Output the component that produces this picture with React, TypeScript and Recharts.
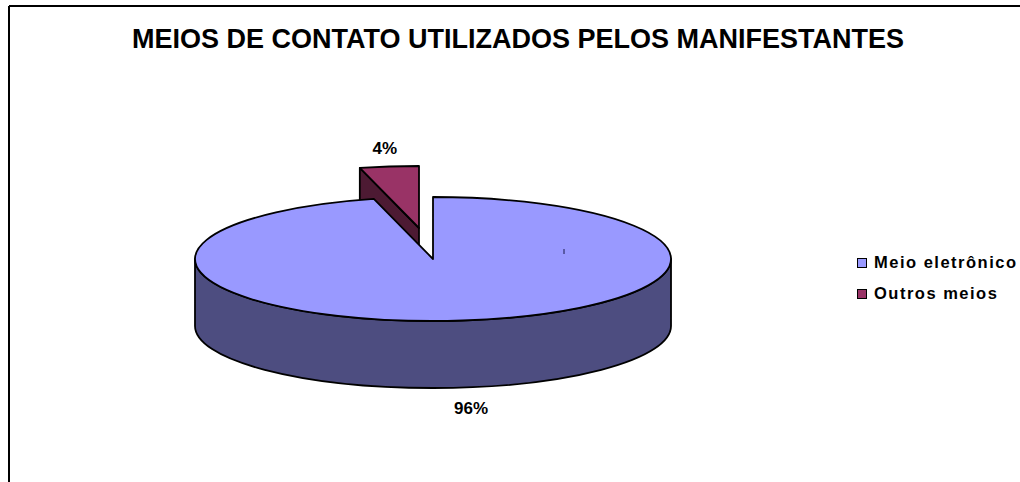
import React from "react";
import { PieChart, Pie, Cell, Legend } from "recharts";

const titleText = "MEIOS DE CONTATO UTILIZADOS PELOS MANIFESTANTES";
// Drawn order: the small slice first, so the large one overlaps its side wall.
const categories = ["Outros meios", "Meio eletrônico"];
const shares = [4, 96];
const topColors = ["#993366", "#9999FF"];
const wallColors = ["#4D1A33", "#4D4D80"];

const rows = categories.map((name, i) => ({ name, value: shares[i] }));

const FONT = "'Liberation Sans', Arial, sans-serif";
const CX = 433;
const CY = 259;
const RX = 238;
const RY = 62;
const DEPTH = 67;
const EXPLODE = { dx: -14, dy: -31 };
const RAD = Math.PI / 180;

const pt = (cx: number, cy: number, a: number) => [
  cx + RX * Math.cos(a * RAD),
  cy - RY * Math.sin(a * RAD),
];

function Slice3D(props: any) {
  const { cx, cy, startAngle, endAngle, index } = props;
  const hi = Math.max(startAngle, endAngle);
  const lo = Math.min(startAngle, endAngle);
  const exploded = index === 0;
  const x0 = exploded ? cx + EXPLODE.dx : cx;
  const y0 = exploded ? cy + EXPLODE.dy : cy;
  const [sx, sy] = pt(x0, y0, hi);
  const [ex, ey] = pt(x0, y0, lo);
  const large = hi - lo > 180 ? 1 : 0;
  const top = `M${x0},${y0} L${sx},${sy} A${RX},${RY} 0 ${large} 1 ${ex},${ey} Z`;
  const stroke = { stroke: "#000", strokeWidth: 1.8, strokeLinejoin: "round" as const };
  return (
    <g>
      {exploded ? (
        <path
          d={`M${x0},${y0} L${sx},${sy} L${sx},${sy + DEPTH} L${x0},${y0 + DEPTH} Z`}
          fill={wallColors[index]}
          {...stroke}
        />
      ) : (
        <path
          d={`M${x0 - RX},${y0} A${RX},${RY} 0 0 0 ${x0 + RX},${y0} L${x0 + RX},${y0 + DEPTH} A${RX},${RY} 0 0 1 ${x0 - RX},${y0 + DEPTH} Z`}
          fill={wallColors[index]}
          {...stroke}
        />
      )}
      <path d={top} fill={topColors[index]} {...stroke} />
      {!exploded && <line x1={x0 + 131} x2={x0 + 131} y1={y0 - 10} y2={y0 - 5} stroke="#1a1a4d" strokeWidth={1} />}
    </g>
  );
}

function SliceLabel(props: any) {
  const { cx, cy, midAngle, percent, index } = props;
  const exploded = index === 0;
  const x = cx + 304 * Math.cos(midAngle * RAD) + (exploded ? EXPLODE.dx + 4 : 0);
  const y = exploded ? cy + EXPLODE.dy - RY - 12 : cy + RY + DEPTH + 26;
  return (
    <text x={x} y={y} textAnchor="middle" fontFamily={FONT} fontWeight="bold" fontSize={17} fill="#000">
      {`${Math.round(percent * 100)}%`}
    </text>
  );
}

function LegendBox({ payload }: any) {
  return (
    <div style={{ fontFamily: FONT, fontWeight: "bold", fontSize: 16.5, letterSpacing: 1.5, color: "#000" }}>
      {(payload || []).map((p: any) => {
        const i = categories.indexOf(p.value);
        return (
          <div key={p.value} style={{ display: "flex", alignItems: "center", height: 31, whiteSpace: "nowrap" }}>
            <span style={{ width: 8, height: 8, background: topColors[i], border: "1.5px solid #000", marginRight: 7, flex: "none" }} />
            {p.value}
          </div>
        );
      })}
    </div>
  );
}

export default function App() {
  const small = (shares[0] / (shares[0] + shares[1])) * 360;
  return (
    <div style={{ position: "absolute", left: 0, top: 0, width: 1020, height: 482, background: "#fff" }}>
      <PieChart width={1020} height={482} margin={{ top: 0, right: 0, bottom: 0, left: 0 }}>
        <line x1={9} x2={1020} y1={6} y2={6} stroke="#000" strokeWidth={2} />
        <line x1={9} x2={9} y1={6} y2={482} stroke="#000" strokeWidth={2} />
        <text x={518} y={48} textAnchor="middle" fontFamily={FONT} fontWeight="bold" fontSize={27} fill="#000">
          {titleText}
        </text>
        <Pie
          data={rows}
          dataKey="value"
          nameKey="name"
          cx={CX}
          cy={CY}
          innerRadius={0}
          outerRadius={RX}
          startAngle={90 + small}
          endAngle={90 + small - 360}
          isAnimationActive={false}
          shape={Slice3D}
          label={SliceLabel}
          labelLine={false}
        >
          {rows.map((r, i) => (
            <Cell key={r.name} fill={topColors[i]} />
          ))}
        </Pie>
        <Legend content={LegendBox} wrapperStyle={{ left: 857, top: 247, width: 163 }} layout="vertical" />
      </PieChart>
    </div>
  );
}
